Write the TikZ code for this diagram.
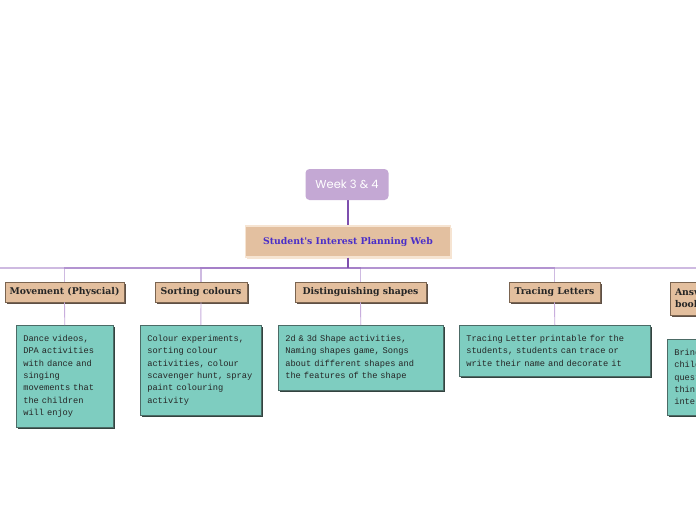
\documentclass[tikz,border=0pt]{standalone}
\usepackage{fontspec}
\usetikzlibrary{shadows}
\newfontfamily\weekfont{Poppins}
\newfontfamily\slabfont{DejaVu Serif}
\newfontfamily\detfont{Liberation Mono}
\definecolor{weekfill}{HTML}{C4A8D4}
\definecolor{titlefill}{HTML}{E3C0A0}
\definecolor{titleedge}{HTML}{F6E4D2}
\definecolor{titletext}{HTML}{4A2FC8}
\definecolor{catfill}{HTML}{E3BF9E}
\definecolor{catedge}{HTML}{7A6450}
\definecolor{catshadow}{HTML}{5E5046}
\definecolor{detfill}{HTML}{7ECDC0}
\definecolor{detedge}{HTML}{4C6B66}
\definecolor{detshadow}{HTML}{33433F}
\definecolor{branchcol}{HTML}{9466BE}
\definecolor{stemcol}{HTML}{7E4FAE}
\definecolor{legcol}{HTML}{C8AEDD}
\tikzset{
  weekbox/.style={fill=weekfill, rounded corners=4pt, minimum width=83pt, minimum height=31pt,
    text=white, font=\weekfont\fontsize{11.5}{13}\selectfont, inner sep=0pt},
  titlebox/.style={fill=titlefill, draw=titleedge, line width=1.2pt, minimum width=205pt, minimum height=31pt,
    text=titletext, font=\slabfont\bfseries\fontsize{9.3}{11}\selectfont, inner sep=0pt,
    drop shadow={shadow xshift=1.5pt, shadow yshift=-1.5pt, fill=titleedge, opacity=1}},
  catbox/.style={fill=catfill, draw=catedge, line width=0.6pt, minimum height=20pt, inner sep=0pt,
    text=black!85, font=\slabfont\bfseries\fontsize{9.3}{12}\selectfont, align=center,
    drop shadow={shadow xshift=2pt, shadow yshift=-2pt, fill=catshadow, opacity=1}},
  detbox/.style={fill=detfill, draw=detedge, line width=0.6pt, anchor=north west, align=left,
    inner xsep=7pt, inner ysep=10pt, text=black!85, font=\detfont\fontsize{8.7}{12.3}\selectfont,
    drop shadow={shadow xshift=2pt, shadow yshift=-2pt, fill=detshadow, opacity=1}},
  branch/.style={draw=branchcol, line width=1.2pt, draw opacity=0.45},
  leg/.style={draw=legcol, line width=0.9pt},
  stem/.style={draw=stemcol, line width=2pt}
}
\begin{document}
\begin{tikzpicture}[x=1pt,y=-1pt]
\useasboundingbox (0,0) rectangle (696,520);
\clip (0,0) rectangle (696,520);
\fill[white] (0,0) rectangle (696,520);

% connectors (behind the boxes)
\coordinate (hub) at (348,268);
\coordinate (leftend) at (-60,268);
\coordinate (weekbot) at (348,199);
\coordinate (roottop) at (348,227);
\draw[stem] (weekbot) -- (roottop);
\draw[branch] (hub) -- (leftend);
\draw[branch] (hub) -| (64.5,282) coordinate (movtop);
\draw[branch] (hub) -| (201,282) coordinate (sorttop);
\draw[branch] (hub) -| (360.5,282) coordinate (disttop);
\draw[branch] (hub) -| (554.5,282) coordinate (tracetop);
\draw[branch] (hub) -| (740,282) coordinate (anstop);

% nodes
\node[weekbox] (week) at (347,184.5) {Week 3 \& 4};
\node[titlebox] (root) at (348,241.5) {Student's Interest Planning Web};
\draw[stem] (root.south) -- (hub);

\node[catbox, minimum width=119pt] (mov) at (64.5,292) {Movement (Physcial)};
\node[catbox, minimum width=92pt] (sort) at (201,292) {Sorting colours};
\node[catbox, minimum width=131pt] (dist) at (360.5,292) {Distinguishing shapes};
\node[catbox, minimum width=91pt] (trace) at (554.5,292) {Tracing Letters};
\node[catbox, align=left, text width=130pt, inner xsep=5pt, minimum height=33pt] (ans) at (740,298.5) {Answering questions\\books};

\node[detbox, text width=83pt] (movd) at (16,325) {Dance videos,\\DPA activities\\with dance and\\singing\\movements that\\the children\\will enjoy};
\node[detbox, text width=107pt] (sortd) at (140,325) {Colour experiments,\\sorting colour\\activities, colour\\scavenger hunt, spray\\paint colouring\\activity};
\node[detbox, text width=151pt] (distd) at (278,325) {2d \& 3d Shape activities,\\Naming shapes game, Songs\\about different shapes and\\the features of the shape};
\node[detbox, text width=177pt] (traced) at (459,325) {Tracing Letter printable for the\\students, students can trace or\\write their name and decorate it};
\node[detbox, text width=132pt] (ansd) at (667,339) {Bringing in\\children's\\questions,\\thinking and\\interests};

\draw[leg] (mov.south) -- (movd.north);
\draw[leg] (sort.south) -- (sortd.north);
\draw[leg] (dist.south) -- (distd.north);
\draw[leg] (trace.south) -- (traced.north);
\draw[leg] (ans.south) -- (ansd.north);
\end{tikzpicture}
\end{document}
